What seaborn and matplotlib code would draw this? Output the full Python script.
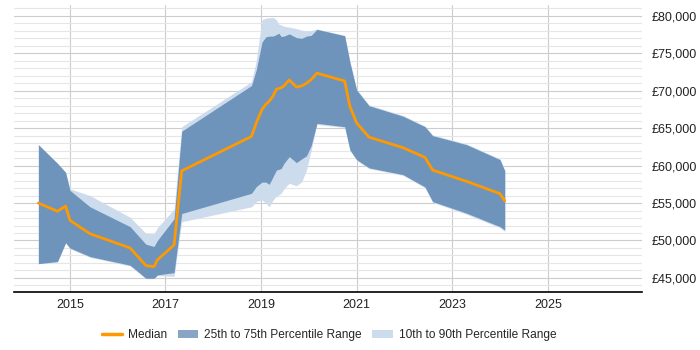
import pandas as pd
import numpy as np
import matplotlib
matplotlib.use("Agg")
import matplotlib.pyplot as plt
import matplotlib.ticker as mticker
from matplotlib.lines import Line2D
from matplotlib.patches import Patch
import seaborn as sns

# Data (decimal years)
years = [2014.34, 2014.74, 2014.91, 2015.00, 2015.42, 2016.26, 2016.59, 2016.76,
         2016.83, 2017.18, 2017.34, 2018.80, 2018.90, 2019.02, 2019.10, 2019.17,
         2019.25, 2019.32, 2019.37, 2019.42, 2019.48, 2019.59, 2019.74, 2019.85,
         2019.95, 2020.05, 2020.17, 2020.75, 2020.86, 2021.00, 2021.26, 2021.97,
         2022.43, 2022.59, 2023.30, 2024.00, 2024.10]
median = [55000, 53900, 54600, 52700, 50900, 49000, 46650, 46500,
          47400, 49400, 59300, 63900, 65700, 67500, 68200, 68600,
          69300, 70200, 70300, 70400, 70650, 71450, 70500, 70650,
          71000, 71500, 72350, 71300, 67900, 65700, 63800, 62400,
          61100, 59400, 57900, 56250, 55300]
p25 = [46900, 47200, 49700, 49000, 47850, 46700, 44950, 44950,
       45400, 45700, 53600, 56300, 57200, 57800, 57800, 57500,
       58500, 59400, 59500, 59600, 60300, 61200, 60400, 60900,
       61300, 62700, 65650, 65200, 62100, 60800, 59700, 58800,
       57150, 55200, 53650, 51850, 51400]
p75 = [62800, 60300, 59100, 56700, 54500, 51850, 49500, 49200,
       50000, 52900, 64600, 70700, 72800, 76500, 77200, 77300,
       77300, 77500, 77700, 77250, 77300, 77600, 77100, 77000,
       77300, 77400, 78200, 77350, 73800, 70100, 68000, 66600,
       65200, 64000, 62800, 60800, 59300]
p10 = [46900, 47100, 49700, 48900, 47750, 46600, 44900, 44900,
       45300, 45200, 52500, 54500, 55200, 55400, 55000, 54500,
       55400, 55900, 56100, 56300, 56900, 57650, 57300, 57850,
       59400, 62100, 65500, 65100, 62000, 60700, 59600, 58700,
       57050, 55100, 53500, 51700, 51200]
p90 = [62800, 60300, 59100, 56900, 56000, 53100, 50950, 50900,
       51700, 54200, 65200, 71200, 74000, 79500, 79700, 79750,
       79800, 79500, 78900, 78800, 78600, 78500, 78300, 78100,
       78000, 78050, 78250, 77400, 73900, 70200, 68100, 66700,
       65300, 64100, 62900, 60900, 59400]

df = pd.DataFrame({"year": years, "median": median, "p25": p25, "p75": p75,
                   "p10": p10, "p90": p90})

sns.set_theme(style="white")
plt.rcParams["font.family"] = ["Liberation Sans", "DejaVu Sans"]

fig = plt.figure(figsize=(7, 3.5), dpi=100)
ax = fig.add_axes([0.02, 0.166, 0.897, 0.82])

light = "#cddcec"
dark = "#6e94bc"
orange = "#ff9900"

ax.fill_between(df["year"], df["p10"], df["p90"], color=light, lw=0, zorder=2)
ax.fill_between(df["year"], df["p25"], df["p75"], color=dark, lw=0, zorder=3)
sns.lineplot(data=df, x="year", y="median", color=orange, lw=2, ax=ax, zorder=4)

ax.set_xlim(2013.83, 2026.97)
ax.set_ylim(43130, 81470)
ax.set_xticks([2015, 2017, 2019, 2021, 2023, 2025])
ax.yaxis.set_major_locator(mticker.MultipleLocator(5000))
ax.yaxis.set_minor_locator(mticker.MultipleLocator(1000))
ax.yaxis.set_major_formatter(mticker.FuncFormatter(lambda v, p: f"£{v:,.0f}"))
ax.yaxis.tick_right()
ax.tick_params(axis="y", which="both", length=0, pad=7, labelsize=9, colors="#222222")
ax.tick_params(axis="x", length=0, pad=5, labelsize=9, colors="#222222")
ax.grid(True, which="major", axis="both", color="#cccccc", lw=0.8, zorder=0)
ax.grid(True, which="minor", axis="y", color="#e6e6e6", lw=0.8, zorder=0)
ax.set_axisbelow(True)
ax.set_xlabel("")
ax.set_ylabel("")
for s in ["top", "left", "right"]:
    ax.spines[s].set_visible(False)
ax.spines["bottom"].set_color("black")
ax.spines["bottom"].set_linewidth(1.2)

handles = [Line2D([0], [0], color=orange, lw=2.5),
           Patch(facecolor="#88a5c6", edgecolor="none"),
           Patch(facecolor=light, edgecolor="none")]
labels = ["Median", "25th to 75th Percentile Range", "10th to 90th Percentile Range"]
fig.legend(handles, labels, loc="center", bbox_to_anchor=(0.47, 0.043), ncol=3,
           frameon=False, fontsize=8.6, handlelength=1.7, handletextpad=0.5,
           columnspacing=0.9)

fig.savefig("out.png", dpi=100)
